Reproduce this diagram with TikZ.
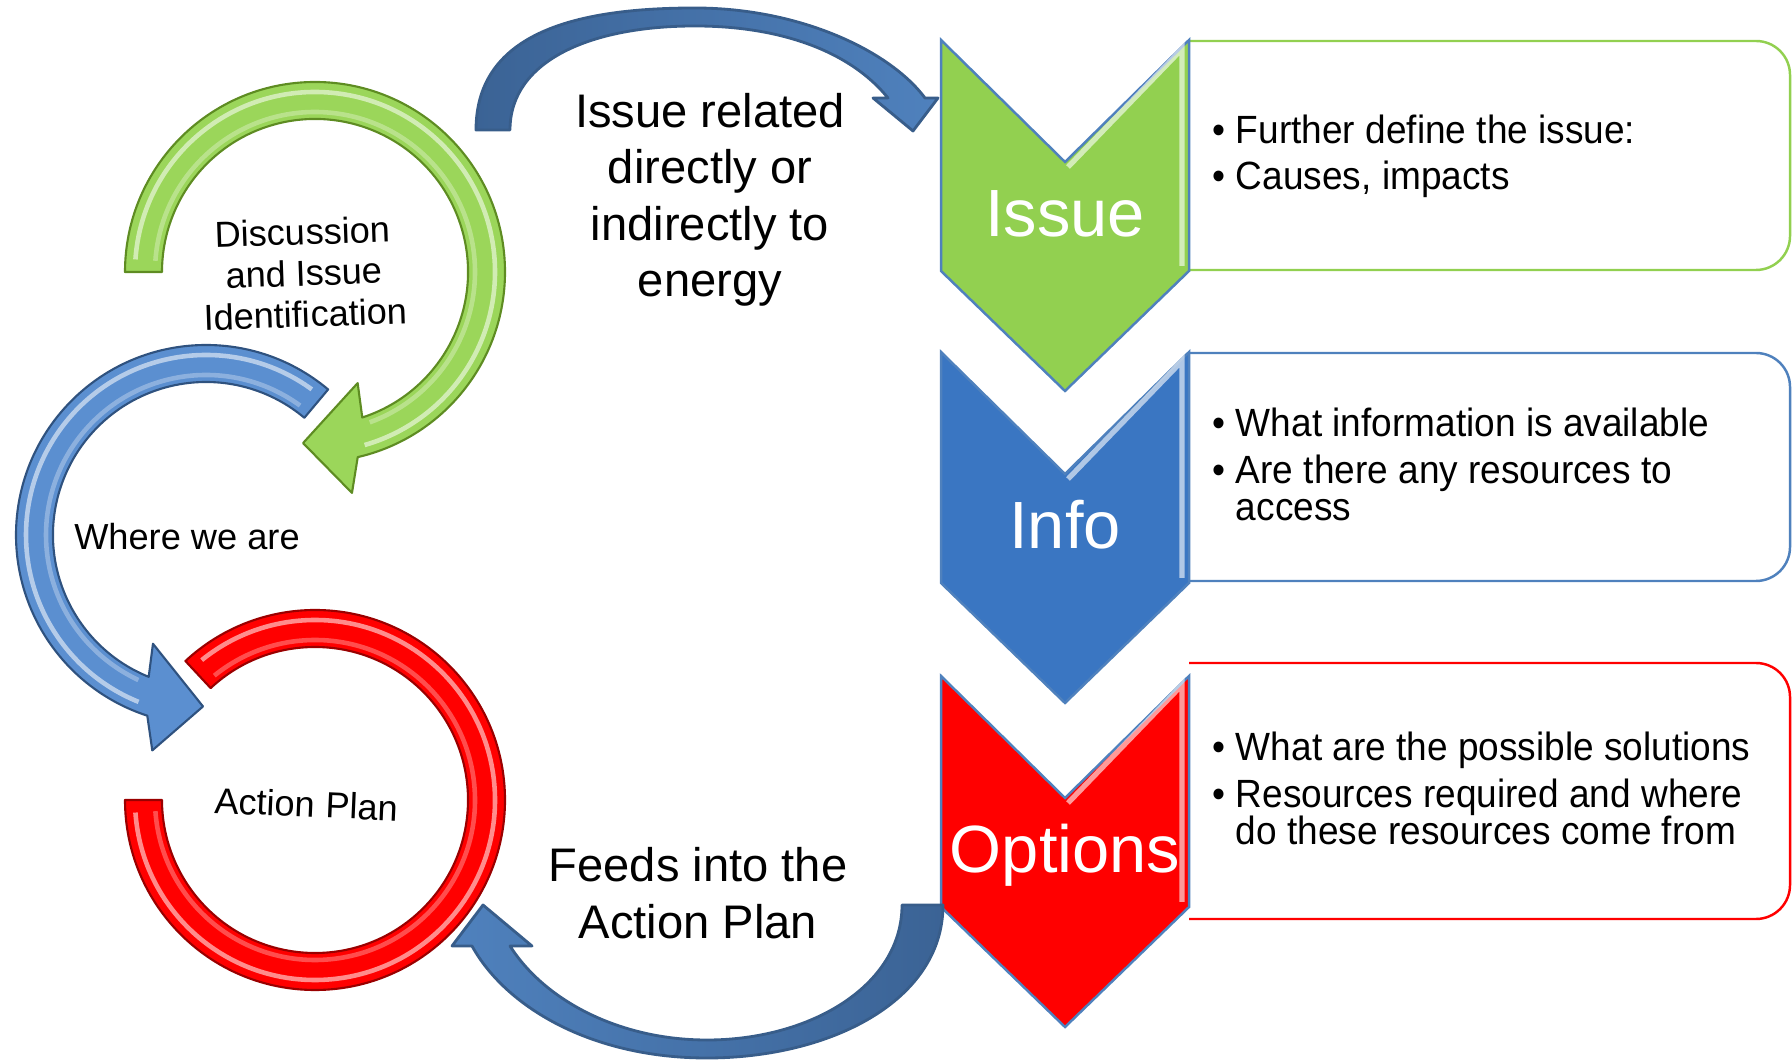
\documentclass[tikz,border=0pt]{standalone}
\usepackage{fontspec}
\setmainfont{Liberation Sans}
\newfontfamily\boxfont[FakeStretch=0.94]{Liberation Sans}
\usetikzlibrary{positioning,calc}

\definecolor{ringgreen}{HTML}{9BD65A}
\definecolor{greendark}{HTML}{5E8C22}
\definecolor{ringblue}{HTML}{5B8FD0}
\definecolor{bluedark}{HTML}{2F527F}
\definecolor{ringred}{HTML}{FF0000}
\definecolor{reddark}{HTML}{9A0000}
\definecolor{chevgreen}{HTML}{92D050}
\definecolor{chevblue}{HTML}{3A76C2}
\definecolor{chevred}{HTML}{FF0000}
\definecolor{chevline}{HTML}{4F81BD}
\definecolor{arrowblue}{HTML}{4F81BD}
\definecolor{arrowdark}{HTML}{3B6395}
\definecolor{arrowline}{HTML}{385D8A}

\tikzstyle{band} = [line width=0.6pt, line join=round]
\tikzstyle{gloss} = [white, opacity=0.55, line width=1.3pt]
\tikzstyle{chev} = [draw=chevline, line width=0.7pt]
\tikzstyle{textbox} = [line width=0.7pt, fill=white, rounded corners=3.4mm]
\tikzstyle{blockarrow} = [draw=arrowline, line width=0.8pt, line join=round]
\tikzstyle{bigtext} = [font=\fontsize{13.4}{16.1}\selectfont, align=center, inner sep=0pt]
\tikzstyle{ringtext} = [font=\fontsize{10.3}{11.7}\selectfont, align=center, inner sep=0pt]
\tikzstyle{chevtext} = [font=\fontsize{19}{22}\selectfont, text=white, inner sep=0pt]
\tikzstyle{boxtext} = [font=\boxfont\fontsize{11.2}{10.8}\selectfont, align=left, inner sep=0pt, anchor=base west]

\begin{document}
\begin{tikzpicture}[x=0.01cm, y=0.01cm]
\useasboundingbox (0,0) rectangle (1792,1061);

	% the three rings
	\begin{scope}[shift={(315,261)}]
	\draw[band, fill=ringred, draw=reddark] (180:190) arc (180:493:190) -- (493:153) arc (493:180:153) -- cycle;
	\draw[gloss] (184:180) arc (184:489:180);
	\draw[gloss, opacity=0.3] (184:160) arc (184:489:160);
	\end{scope}
	\begin{scope}[shift={(206,526)}]
	\draw[band, fill=ringblue, draw=bluedark] (50:190) arc (50:252:190) -- (256:222) -- (269:171.5) -- (244:121) -- (248:153) arc (248:50:153) -- cycle;
	\draw[gloss] (54:180) arc (54:248:180);
	\draw[gloss, opacity=0.3] (54:160) arc (54:245:160);
	\end{scope}
	\begin{scope}[shift={(315,789)}]
	\draw[band, fill=ringgreen, draw=greendark] (180:190) arc (180:-77:190) -- (-80.5:224) -- (-94:171.5) -- (-69:119) -- (-72:153) arc (-72:180:153) -- cycle;
	\draw[gloss] (176:180) arc (176:-74:180);
	\draw[gloss, opacity=0.3] (176:160) arc (176:-70:160);
	\end{scope}

	\node[ringtext, anchor=base, rotate=2] (discuss) at (306,734) {Discussion\\and Issue\\Identification};
	\node[ringtext, anchor=base] (where) at (187,511) {Where we are};
	\node[ringtext, anchor=base, rotate=-2.5] (action) at (306,244) {Action Plan};

	% text boxes behind the chevrons
	\draw[textbox, draw=chevgreen] (1189,1020) -| (1790,791) -- (1189,791);
	\draw[textbox, draw=chevline] (1189,708) -| (1790,480) -- (1189,480);
	\draw[textbox, draw=chevred] (1189,398) -| (1790,142) -- (1189,142);

	\foreach \ytop/\col/\word/\nm in {1021/chevgreen/Issue/issue, 709/chevblue/Info/info, 385/chevred/Options/options}{
		\draw[chev, fill=\col] (941,\ytop) -- (1065,\ytop-122) -- (1189,\ytop) -- (1189,\ytop-231) -- (1065,\ytop-351) -- (941,\ytop-231) -- cycle;
		\draw[white, opacity=0.6, line width=1.5pt] (1068,\ytop-127) -- (1182,\ytop-9) -- (1182,\ytop-226);
		\node[chevtext, anchor=base] (\nm) at (1065,\ytop-197) {\word};
	}

	\node[boxtext] (issuetxt) at (1212,871) {\textbullet\ Further define the issue:\\[2.3pt]\textbullet\ Causes, impacts};
	\node[boxtext] (infotxt) at (1212,540) {\textbullet\ What information is available\\[2.3pt]\textbullet\ Are there any resources to\\\hphantom{\textbullet\ }access};
	\node[boxtext] (optionstxt) at (1212,216) {\textbullet\ What are the possible solutions\\[2.3pt]\textbullet\ Resources required and where\\\hphantom{\textbullet\ }do these resources come from};

	% curved block arrows
	\draw[blockarrow, left color=arrowdark, right color=arrowblue] (476,931) .. controls (476,1030) and (580,1053) .. (695,1053) .. controls (800,1053) and (890,1010) .. (925,963) -- (938,963) -- (913,930) -- (873,963) -- (888,963) .. controls (850,1010) and (780,1035) .. (695,1035) .. controls (590,1035) and (510,1000) .. (510,931) -- cycle;
	\draw[blockarrow, left color=arrowblue, right color=arrowdark] (943,156) .. controls (943,60) and (830,3) .. (707,3) .. controls (590,3) and (505,55) .. (472,115) -- (452,115) -- (483,156) -- (532,115) -- (510,115) .. controls (545,60) and (620,21) .. (707,21) .. controls (810,21) and (902,75) .. (902,156) -- cycle;

	\node[bigtext, anchor=base] (related) at (710,764) {Issue related\\directly or\\indirectly to\\energy};
	\node[bigtext, anchor=base] (feeds) at (698,123) {Feeds into the\\Action Plan};
\end{tikzpicture}
\end{document}
